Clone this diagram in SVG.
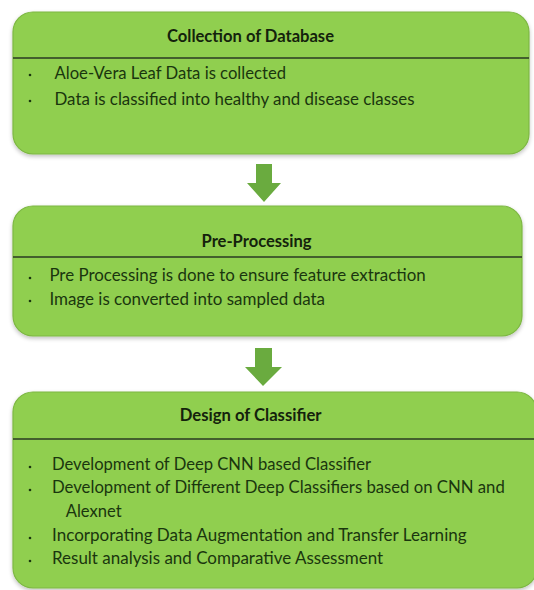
<svg xmlns="http://www.w3.org/2000/svg" width="534" height="590" viewBox="0 0 534 590">
  <defs>
    <filter id="soft" x="-5%" y="-5%" width="110%" height="115%">
      <feGaussianBlur in="SourceAlpha" stdDeviation="2"/>
      <feOffset dx="0" dy="2" result="b"/>
      <feComponentTransfer><feFuncA type="linear" slope="0.25"/></feComponentTransfer>
      <feMerge><feMergeNode/><feMergeNode in="SourceGraphic"/></feMerge>
    </filter>
  </defs>
  <style>
    .box { fill: #90cf50; stroke: #7db743; stroke-width: 1.2; filter: url(#soft); }
    .rule { stroke: #2a3a22; stroke-width: 1.6; }
    .title { font-family: Lato, "Liberation Sans", sans-serif; font-weight: bold; font-size: 16.5px; fill: #14220c; }
    .item { font-family: Lato, "Liberation Sans", sans-serif; font-size: 17.5px; fill: #1a360e; }
    .dot { fill: #1a360e; }
    .arrow { fill: #6aab3f; }
  </style>
  <rect width="534" height="590" fill="#ffffff"/>

  <!-- connectors -->
  <g id="connectors">
    <polygon class="arrow" points="256,164 272,164 272,183 281,183 264,202 247,183 256,183"/>
    <polygon class="arrow" points="255,348 272,348 272,367 282,367 263,386 245,367 255,367"/>
  </g>

  <!-- stage 1 -->
  <g id="collection">
    <rect class="box" x="13" y="12" width="516" height="142" rx="20"/>
    <line class="rule" x1="13" y1="58" x2="529" y2="58"/>
    <text class="title" x="167" y="41.7" textLength="167" lengthAdjust="spacingAndGlyphs">Collection of Database</text>
    <circle class="dot" cx="30" cy="75" r="1.3"/>
    <text class="item" x="54.5" y="79" textLength="231.5" lengthAdjust="spacingAndGlyphs">Aloe-Vera Leaf Data is collected</text>
    <circle class="dot" cx="30" cy="101" r="1.3"/>
    <text class="item" x="54.5" y="104.5" textLength="360" lengthAdjust="spacingAndGlyphs">Data is classified into healthy and disease classes</text>
  </g>

  <!-- stage 2 -->
  <g id="preprocessing">
    <rect class="box" x="13" y="206" width="509" height="130" rx="20"/>
    <line class="rule" x1="13" y1="257" x2="522" y2="257"/>
    <text class="title" x="201.6" y="246.8" textLength="110" lengthAdjust="spacingAndGlyphs">Pre-Processing</text>
    <circle class="dot" cx="30" cy="278" r="1.3"/>
    <text class="item" x="49.4" y="281.3" textLength="376.3" lengthAdjust="spacingAndGlyphs">Pre Processing is done to ensure feature extraction</text>
    <circle class="dot" cx="30" cy="301" r="1.3"/>
    <text class="item" x="49.4" y="304.7" textLength="275.6" lengthAdjust="spacingAndGlyphs">Image is converted into sampled data</text>
  </g>

  <!-- stage 3 -->
  <g id="classifier">
    <rect class="box" x="13" y="392" width="524" height="196" rx="20"/>
    <line class="rule" x1="13" y1="439" x2="534" y2="439"/>
    <text class="title" x="179.8" y="421.3" textLength="141.7" lengthAdjust="spacingAndGlyphs">Design of Classifier</text>
    <circle class="dot" cx="30" cy="467" r="1.3"/>
    <text class="item" x="52" y="470.3" textLength="319" lengthAdjust="spacingAndGlyphs">Development of Deep CNN based Classifier</text>
    <circle class="dot" cx="30" cy="490" r="1.3"/>
    <text class="item" x="52" y="492.8" textLength="452.8" lengthAdjust="spacingAndGlyphs">Development of Different Deep Classifiers based on CNN and</text>
    <text class="item" x="65.7" y="517.3" textLength="55.9" lengthAdjust="spacingAndGlyphs">Alexnet</text>
    <circle class="dot" cx="30" cy="538" r="1.3"/>
    <text class="item" x="52" y="541.2" textLength="414.6" lengthAdjust="spacingAndGlyphs">Incorporating Data Augmentation and Transfer Learning</text>
    <circle class="dot" cx="30" cy="561" r="1.3"/>
    <text class="item" x="52" y="564.3" textLength="331.2" lengthAdjust="spacingAndGlyphs">Result analysis and Comparative Assessment</text>
  </g>
</svg>
